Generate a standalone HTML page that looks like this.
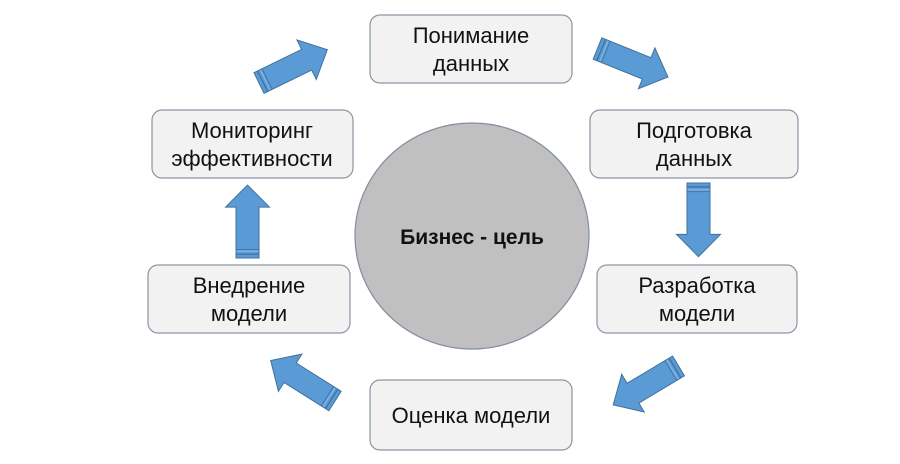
<!DOCTYPE html>
<html>
<head>
<meta charset="utf-8">
<style>
  html,body{margin:0;padding:0;background:#fff;}
  svg{display:block;}
  text{font-family:"Liberation Sans","Noto Sans CJK SC",sans-serif;fill:#111;}
</style>
</head>
<body>
<svg width="900" height="464" viewBox="0 0 900 464" xmlns="http://www.w3.org/2000/svg">
  <defs>
    <g id="arr">
      <polygon points="0,-11.5 53,-11.5 53,-22 76,0 53,22 53,11.5 0,11.5" fill="#5b9bd5" stroke="#41719c" stroke-width="1"/>
      <line x1="4" y1="-11" x2="4" y2="11" stroke="#3f6f9c" stroke-width="1.2"/>
      <line x1="7" y1="-11" x2="7" y2="11" stroke="#8fbbe6" stroke-width="1"/>
      <line x1="9" y1="-11" x2="9" y2="11" stroke="#3f6f9c" stroke-width="0.8"/>
    </g>
  </defs>

  <!-- central circle -->
  <ellipse cx="472" cy="236" rx="117" ry="113" fill="#c0c0c0" stroke="#7f8ea0" stroke-width="1.2"/>
  <text x="472" y="244" font-size="21" font-weight="bold" text-anchor="middle">Бизнес - цель</text>

  <!-- boxes -->
  <g fill="#f2f2f2" stroke="#8a96a4" stroke-width="1.2">
    <rect x="370" y="15" width="202" height="68" rx="10"/>
    <rect x="590" y="110" width="208" height="68" rx="10"/>
    <rect x="597" y="265" width="200" height="68" rx="10"/>
    <rect x="370" y="380" width="202" height="70" rx="10"/>
    <rect x="148" y="265" width="202" height="68" rx="10"/>
    <rect x="152" y="110" width="201" height="68" rx="10"/>
  </g>

  <g font-size="22" text-anchor="middle">
    <text x="471" y="43">Понимание</text>
    <text x="471" y="71">данных</text>

    <text x="694" y="138">Подготовка</text>
    <text x="694" y="166">данных</text>

    <text x="697" y="293">Разработка</text>
    <text x="697" y="321">модели</text>

    <text x="471" y="423">Оценка модели</text>

    <text x="249" y="293">Внедрение</text>
    <text x="249" y="321">модели</text>

    <text x="252" y="138">Мониторинг</text>
    <text x="252" y="166">эффективности</text>
  </g>

  <!-- arrows -->
  <use href="#arr" transform="translate(259,83) rotate(-26)"/>
  <use href="#arr" transform="translate(597.5,48.5) rotate(22)"/>
  <use href="#arr" transform="translate(698.5,183) rotate(90) scale(0.97,1)"/>
  <use href="#arr" transform="translate(678.5,366) rotate(149.2)"/>
  <use href="#arr" transform="translate(335,401) rotate(-147.8)"/>
  <use href="#arr" transform="translate(247.5,258) rotate(-90) scale(0.96,1)"/>
</svg>
</body>
</html>
